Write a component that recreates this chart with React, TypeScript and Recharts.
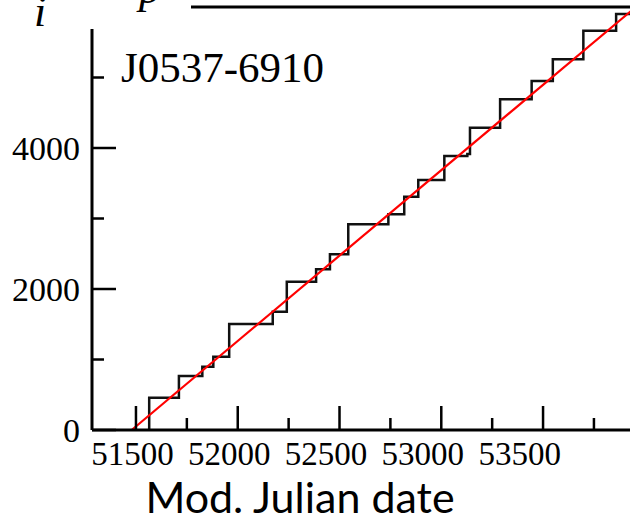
import { LineChart, Line, XAxis, YAxis, Label } from 'recharts';

// glitch epochs (MJD) and the cumulative size after each one
const glitchMJD = [
  51565, 51711, 51826, 51880, 51958, 52172, 52241, 52385, 52453, 52543, 52740,
  52818, 52887, 53015, 53128, 53141, 53289, 53444, 53548, 53698, 53859,
];
const cumulativeSize = [
  458, 766, 898, 1040, 1504, 1678, 2104, 2279, 2492, 2918, 3060,
  3309, 3546, 3887, 3915, 4288, 4691, 4950, 5258, 5664, 5901,
];

// linear fit (red)
const fitMJD = [51479, 53937];
const fitSize = [0, 5955];

const xDomain = [51284, 53937];
const yDomain = [0, 6000];
const xTicks = [51500, 51750, 52000, 52250, 52500, 52750, 53000, 53250, 53500, 53750];
const xLabelTicks = [51500, 52000, 52500, 53000, 53500];
const yTicks = [0, 1000, 2000, 3000, 4000, 5000, 6000];
const yMajorTicks = [0, 2000, 4000, 6000];
const yLabelTicks = [0, 2000, 4000];

const stepData = [
  { mjd: glitchMJD[0], size: 0 },
  ...glitchMJD.map((m, i) => ({ mjd: m, size: cumulativeSize[i] })),
  { mjd: xDomain[1], size: cumulativeSize[cumulativeSize.length - 1] },
];
const fitData = fitMJD.map((m, i) => ({ mjd: m, size: fitSize[i] }));

const SERIF = "'Liberation Serif', 'Times New Roman', serif";
const MAJOR = 24;
const MINOR = 12;
const TICK_W = 2.5;
const AXIS = { stroke: '#000', strokeWidth: 3 };
// the x tick labels in the source are a little compressed sideways
const LABEL_SQUEEZE = 0.951;
const SQUEEZE_ORIGIN = 65;

const BottomTick = ({ x, y, payload }: any) => {
  const major = xLabelTicks.includes(payload.value);
  const lx = SQUEEZE_ORIGIN + (x - SQUEEZE_ORIGIN) * LABEL_SQUEEZE;
  return (
    <g>
      <line x1={x} x2={x} y1={y} y2={y - (major ? MAJOR : MINOR)} stroke="#000" strokeWidth={TICK_W} />
      {major && (
        <text x={lx} y={y + 35} textAnchor="middle" fontFamily={SERIF} fontSize={33} fill="#000">
          {payload.value}
        </text>
      )}
    </g>
  );
};

const TopTick = ({ x, y, payload }: any) => {
  const major = xLabelTicks.includes(payload.value);
  return <line x1={x} x2={x} y1={y} y2={y + (major ? MAJOR : MINOR)} stroke="#000" strokeWidth={TICK_W} />;
};

const LeftTick = ({ x, y, payload }: any) => {
  const major = yMajorTicks.includes(payload.value);
  return (
    <g>
      <line x1={x} x2={x + (major ? MAJOR : MINOR)} y1={y} y2={y} stroke="#000" strokeWidth={TICK_W} />
      {yLabelTicks.includes(payload.value) && (
        <text x={x - 12} y={y + 12} textAnchor="end" fontFamily={SERIF} fontSize={34} fill="#000">
          {payload.value}
        </text>
      )}
    </g>
  );
};

const RightTick = ({ x, y, payload }: any) => {
  const major = yMajorTicks.includes(payload.value);
  return <line x1={x} x2={x - (major ? MAJOR : MINOR)} y1={y} y2={y} stroke="#000" strokeWidth={TICK_W} />;
};

export default function App() {
  return (
    <div
      style={{
        position: 'absolute',
        left: 0,
        top: 0,
        width: 630,
        height: 520,
        overflow: 'hidden',
        background: '#fff',
      }}
    >
      <LineChart width={640} height={520} margin={{ top: 6, right: 7, bottom: 30, left: 12 }}>
        <XAxis
          xAxisId="bottom"
          dataKey="mjd"
          type="number"
          domain={xDomain}
          ticks={xTicks}
          interval={0}
          height={60}
          tickSize={0}
          tickMargin={0}
          tickLine={false}
          tick={BottomTick}
          axisLine={AXIS}
        >
          <Label
            content={({ viewBox }: any) => (
              <text
                x={viewBox.x + viewBox.width / 2 - 62}
                y={viewBox.y + 83}
                textAnchor="middle"
                fontFamily="Lato, 'Noto Sans', sans-serif"
                fontSize={43}
                fill="#000"
              >
                Mod. Julian date
              </text>
            )}
          />
        </XAxis>
        <XAxis
          xAxisId="top"
          orientation="top"
          dataKey="mjd"
          type="number"
          domain={xDomain}
          ticks={xTicks}
          interval={0}
          height={1}
          tickSize={0}
          tickMargin={0}
          tickLine={false}
          tick={TopTick}
          axisLine={AXIS}
        />
        <YAxis
          yAxisId="left"
          type="number"
          domain={yDomain}
          ticks={yTicks}
          interval={0}
          width={80}
          tickSize={0}
          tickMargin={0}
          tickLine={false}
          tick={LeftTick}
          axisLine={AXIS}
        />
        <YAxis
          yAxisId="right"
          orientation="right"
          type="number"
          domain={yDomain}
          ticks={yTicks}
          interval={0}
          width={1}
          tickSize={0}
          tickMargin={0}
          tickLine={false}
          tick={RightTick}
          axisLine={AXIS}
        />
        <Line
          xAxisId="bottom"
          yAxisId="left"
          data={stepData}
          dataKey="size"
          type="stepAfter"
          stroke="#111"
          strokeWidth={2.5}
          dot={false}
          activeDot={false}
          isAnimationActive={false}
        />
        <Line
          xAxisId="bottom"
          yAxisId="left"
          data={fitData}
          dataKey="size"
          type="linear"
          stroke="#ff0000"
          strokeWidth={2.2}
          dot={false}
          activeDot={false}
          isAnimationActive={false}
        />
      </LineChart>
      {/* cut-off axis title in the top-left corner, plus the source name */}
      <svg
        width={630}
        height={520}
        style={{ position: 'absolute', left: 0, top: 0, pointerEvents: 'none' }}
      >
        <rect x={0} y={0} width={191} height={29} fill="#fff" />
        <text x={34} y={26} fontFamily={SERIF} fontStyle="italic" fontSize={44} fill="#000">
          i
        </text>
        <text x={139} y={3} fontFamily={SERIF} fontStyle="italic" fontSize={44} fill="#000">
          p
        </text>
        <text x={121} y={82} fontFamily={SERIF} fontSize={43} fill="#000">
          J0537-6910
        </text>
      </svg>
    </div>
  );
}
